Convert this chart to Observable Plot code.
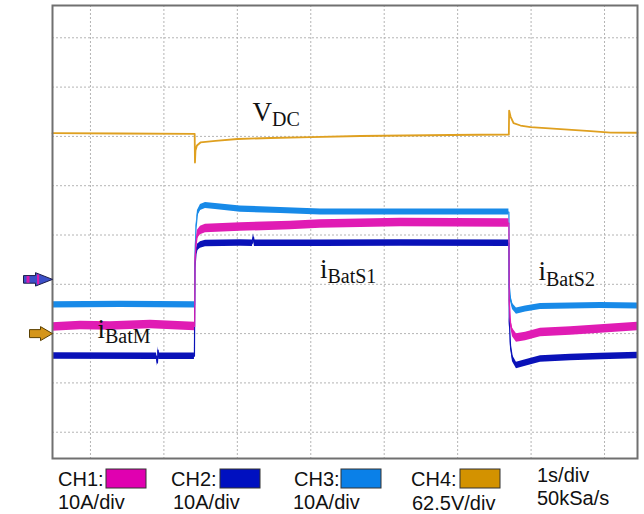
<!DOCTYPE html>
<html>
<head>
<meta charset="utf-8">
<script src="https://cdn.jsdelivr.net/npm/d3@7"></script>
<script src="https://cdn.jsdelivr.net/npm/@observablehq/plot@0.6"></script>
<style>
  html, body { margin: 0; padding: 0; background: #fff; }
  #chart { width: 644px; height: 514px; }
  #chart svg { display: block; }
</style>
</head>
<body>
<div id="chart"></div>
<script>
// ---- scope settings ----
const timeGrid = [0, 1, 2, 3, 4, 5, 6, 7];          // s, 1 s/div
const divGrid = [0, 1, 2, 3, 4, 5, 6, 7, 8];        // vertical divisions
const ampsPerDiv = 10;                              // CH1..CH3
const voltsPerDiv = 62.5;                           // CH4
const currentZeroDiv = 3.1;                         // CH1-3 ground marker
const voltageZeroDiv = 2.0;                         // CH4 ground marker

// ---- CH1 (magenta) battery current, A ----
const ch1Time = [-0.517, -0.136, 0.272, 0.817, 1.419, 1.424, 1.437, 1.457, 1.498, 1.566, 2.043, 2.724, 3.132, 4.222, 5.698, 5.703, 5.720, 5.747, 5.801, 5.924, 6.128, 6.537, 6.945, 7.449];
const ch1Amps = [-9.66, -9.36, -9.46, -9.15, -9.56, 3.42, 6.87, 9.10, 9.91, 10.32, 10.62, 10.93, 11.23, 11.54, 11.43, -4.29, -8.75, -10.78, -11.89, -11.59, -10.78, -10.47, -10.07, -9.56];

// ---- CH2 (dark blue), A ----
const ch2Time = [-0.517, 0.899, 0.912, 0.921, 0.930, 1.416, 1.422, 1.437, 1.457, 1.498, 1.566, 2.043, 2.206, 2.220, 2.233, 3.132, 4.222, 5.698, 5.703, 5.720, 5.747, 5.801, 5.924, 6.128, 6.537, 6.945, 7.449];
const ch2Amps = [-15.54, -15.58, -16.96, -14.33, -15.58, -15.58, 2.20, 5.25, 6.46, 6.97, 7.28, 7.38, 7.34, 8.59, 7.34, 7.34, 7.38, 7.34, -8.34, -13.41, -16.05, -17.47, -16.96, -16.15, -15.85, -15.65, -15.44];

// ---- CH3 (light blue), A ----
const ch3Time = [-0.517, 0.409, 1.419, 1.424, 1.437, 1.457, 1.498, 1.566, 1.702, 2.043, 2.588, 3.132, 4.222, 5.698, 5.703, 5.720, 5.747, 5.801, 5.924, 6.128, 6.945, 7.449];
const ch3Amps = [-5.16, -5.06, -5.16, 4.64, 10.32, 13.36, 14.58, 14.98, 14.78, 14.27, 13.97, 13.67, 13.67, 13.67, -1.24, -3.88, -5.50, -6.42, -6.01, -5.50, -5.30, -5.40];

// ---- CH4 (orange) DC-link voltage, V ----
const ch4Time = [-0.517, 0.409, 1.419, 1.423, 1.430, 1.450, 1.498, 1.702, 2.002, 2.451, 2.996, 3.677, 4.903, 5.697, 5.701, 5.720, 5.761, 5.856, 5.992, 6.401, 6.809, 7.082, 7.449];
const ch4Volts = [254.1, 253.7, 253.3, 216.9, 232.1, 238.4, 242.3, 244.2, 246.7, 248.0, 249.0, 250.5, 251.8, 252.4, 282.8, 275.2, 266.7, 263.8, 261.7, 259.1, 256.6, 254.9, 254.6];

// ---- trace labels ----
const labelMain = ["V", "i", "i", "i"];
const labelSub = ["DC", "BatS1", "BatS2", "BatM"];
const labelTime = [2.206, 3.125, 6.101, 0.095];
const labelDiv = [6.322, 3.138, 3.087, 1.921];

// ---- legend ----
const channelNames = ["CH1:", "CH2:", "CH3:", "CH4:"];
const channelScales = ["10A/div", "10A/div", "10A/div", "62.5V/div"];
const channelColors = ["#e000b0", "#0010c0", "#0a80e8", "#d39200"];
const traceColors = ["#e01cb4", "#0a12b8", "#188ae8", "#dfa020"];
const timebase = ["1s/div", "50kSa/s"];

// ---- build tables ----
const ampDiv = a => currentZeroDiv + a / ampsPerDiv;
const voltDiv = v => voltageZeroDiv + v / voltsPerDiv;
const ch1 = ch1Time.map((t, i) => ({t, div: ampDiv(ch1Amps[i])}));
const ch2 = ch2Time.map((t, i) => ({t, div: ampDiv(ch2Amps[i])}));
const ch3 = ch3Time.map((t, i) => ({t, div: ampDiv(ch3Amps[i])}));
const ch4 = ch4Time.map((t, i) => ({t, div: voltDiv(ch4Volts[i])}));
const labels = labelMain.map((m, i) => ({main: m, sub: labelSub[i], t: labelTime[i], div: labelDiv[i]}));

const xDomain = [-0.517, 7.449];
const yDomain = [-0.533, 8.655];
const pxPerDiv = 49.3;
const markers = [
  {t: xDomain[0], div: currentZeroDiv},
  {t: xDomain[0], div: voltageZeroDiv}
];

// custom arrow symbols (tip at the origin, pointing right)
const arrowCur = {draw(c) { c.moveTo(0, 0); c.lineTo(-17, -6.7); c.lineTo(-17, -3.8); c.lineTo(-29, -3.8); c.lineTo(-29, 3.8); c.lineTo(-17, 3.8); c.lineTo(-17, 6.7); c.closePath(); }};
const stripeCur = {draw(c) { c.rect(-26, -3.3, 3, 6.6); c.rect(-15.5, -4.8, 2.2, 9.6); }};
const arrowVolt = {draw(c) { c.moveTo(0, 0); c.lineTo(-12, -7); c.lineTo(-12, -4); c.lineTo(-23, -4); c.lineTo(-23, 4); c.lineTo(-12, 4); c.lineTo(-12, 7); c.closePath(); }};

function band(data, halfPx, color) {
  const h = halfPx / pxPerDiv;
  return [
    Plot.areaY(data, {x: "t", y1: d => d.div - h, y2: d => d.div + h, fill: color, curve: "linear"}),
    Plot.line(data, {x: "t", y: "div", stroke: color, strokeWidth: 1.2, curve: "linear"})
  ];
}

const serif = "'Liberation Serif', 'Times New Roman', serif";
const plot = Plot.plot({
  width: 644,
  height: 460,
  marginLeft: 52,
  marginRight: 7,
  marginTop: 5,
  marginBottom: 2,
  style: {background: "#fff"},
  x: {domain: xDomain, axis: null},
  y: {domain: yDomain, axis: null},
  marks: [
    Plot.ruleX(timeGrid, {stroke: "#b4b4b4", strokeDasharray: "2,2", strokeWidth: 1}),
    Plot.ruleY(divGrid, {stroke: "#b4b4b4", strokeDasharray: "2,2", strokeWidth: 1}),
    ...band(ch2, 3.3, traceColors[1]),
    ...band(ch3, 3.1, traceColors[2]),
    ...band(ch1, 4.3, traceColors[0]),
    Plot.line(ch4, {x: "t", y: "div", stroke: traceColors[3], strokeWidth: 1.8, curve: "linear"}),
    Plot.frame({stroke: "#707070", strokeWidth: 2}),
    Plot.text(labels, {x: "t", y: "div", text: "main", textAnchor: "start", lineAnchor: "bottom", fontSize: 27, fontFamily: serif, fill: "#111"}),
    Plot.text(labels.filter(d => d.main === "V"), {x: "t", y: "div", text: "sub", dx: 19.5, dy: 5.5, textAnchor: "start", lineAnchor: "bottom", fontSize: 20, fontFamily: serif, fill: "#111"}),
    Plot.text(labels.filter(d => d.main === "i"), {x: "t", y: "div", text: "sub", dx: 7.5, dy: 5.5, textAnchor: "start", lineAnchor: "bottom", fontSize: 20, fontFamily: serif, fill: "#111"}),
    Plot.dot(markers.slice(0, 1), {x: "t", y: "div", symbol: arrowCur, r: 5, fill: "#3c50c8", stroke: "#1c1c4a", strokeWidth: 1}),
    Plot.dot(markers.slice(0, 1), {x: "t", y: "div", symbol: stripeCur, r: 5, fill: "#d81ab0", stroke: "none"}),
    Plot.dot(markers.slice(1, 2), {x: "t", y: "div", symbol: arrowVolt, r: 5, fill: "#d4951a", stroke: "#5a4000", strokeWidth: 1})
  ]
});
document.getElementById("chart").append(plot);

// ---- legend below the plot ----
const sans = "'Liberation Sans', Arial, sans-serif";
const legend = d3.create("svg").attr("width", 644).attr("height", 54).style("display", "block");
const nameX = [58, 171, 294, 411];
const swatchX = [106, 220, 341, 460];
const scaleX = [58, 173, 293, 412];
const scaleY = [48.5, 48.5, 48.5, 49.5];
channelNames.forEach((name, i) => {
  legend.append("text").attr("x", nameX[i]).attr("y", 26)
    .attr("font-family", sans).attr("font-size", 20).attr("fill", "#111").text(name);
  legend.append("rect").attr("x", swatchX[i]).attr("y", 9).attr("width", 40).attr("height", 19)
    .attr("fill", channelColors[i]).attr("stroke", "#333").attr("stroke-width", 1);
  legend.append("text").attr("x", scaleX[i]).attr("y", scaleY[i])
    .attr("font-family", sans).attr("font-size", 20).attr("fill", "#111").text(channelScales[i]);
});
timebase.forEach((s, i) => {
  legend.append("text").attr("x", 537).attr("y", i === 0 ? 22 : 45)
    .attr("font-family", sans).attr("font-size", 20).attr("fill", "#111").text(s);
});
document.getElementById("chart").append(legend.node());
</script>
</body>
</html>
